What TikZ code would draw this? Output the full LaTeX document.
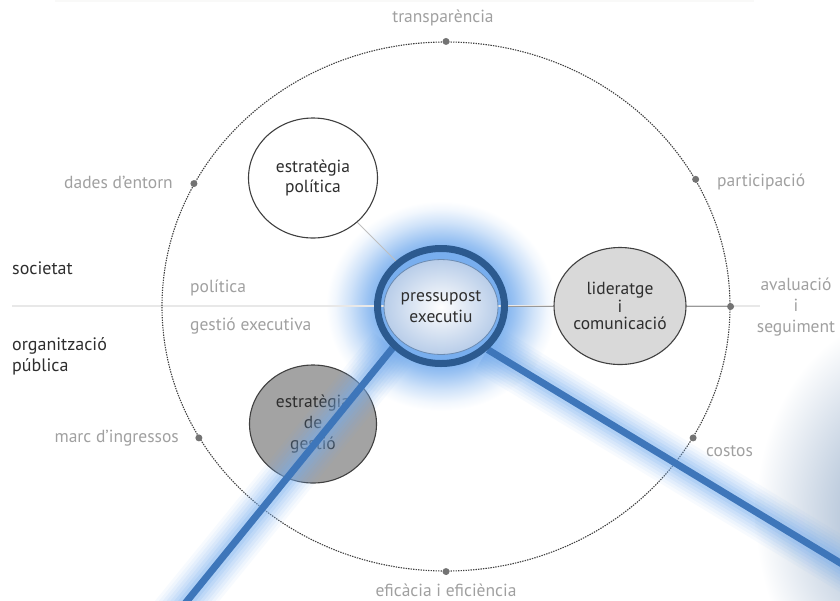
\documentclass[tikz,border=0pt]{standalone}
\usepackage{fontspec}
\setmainfont{PT Sans}
\usetikzlibrary{shapes.geometric}

\definecolor{lblgray}{HTML}{A0A0A0}
\definecolor{txtdark}{HTML}{2E2E2E}
\definecolor{ringblue}{HTML}{2C5A8F}
\definecolor{handblue}{HTML}{3E76BA}
\definecolor{glowblue}{HTML}{78AEEE}
\definecolor{lensmid}{HTML}{E2EAF5}
\definecolor{lensedge}{HTML}{B8CDE9}
\definecolor{blobgray}{HTML}{AEC0D6}

\pgfdeclareradialshading{halo}{\pgfpoint{0bp}{0bp}}{color(0bp)=(glowblue); color(13bp)=(glowblue); color(16bp)=(glowblue!75); color(20bp)=(glowblue!35); color(23bp)=(glowblue!10); color(25bp)=(white); color(50bp)=(white)}
\pgfdeclareradialshading{lens}{\pgfpoint{0bp}{0bp}}{color(0bp)=(white); color(10bp)=(lensmid); color(25bp)=(lensedge); color(50bp)=(lensedge)}
\pgfdeclareradialshading{blob}{\pgfpoint{0bp}{0bp}}{color(0bp)=(blobgray); color(10bp)=(blobgray!85); color(18bp)=(blobgray!40); color(25bp)=(white); color(50bp)=(white)}

\pgfdeclarelayer{back}
\pgfdeclarelayer{front}
\pgfsetlayers{back,main,front}

\begin{document}
\begin{tikzpicture}[
  x=1pt, y=-1pt,
  lbl/.style={font=\fontsize{17.5}{21}\selectfont, text=lblgray, inner sep=0pt},
  side/.style={font=\fontsize{18}{21}\selectfont, text=txtdark, inner sep=0pt, align=left},
  bub/.style={ellipse, draw=black!75, line width=1.1pt, inner sep=0pt, align=center,
    font=\fontsize{17.5}{20}\selectfont, text=txtdark},
  dot/.style={circle, fill=black!55, inner sep=0pt, minimum size=7pt},
  lnk/.style={line width=1pt, draw=black!40},
  handle/.style={line width=7pt, draw=handblue}
]
\useasboundingbox (0,0) rectangle (840,600);
\clip (0,0) rectangle (840,600);

% lens
\begin{pgfonlayer}{front}
\node[ellipse, draw=ringblue, line width=7pt, minimum width=127pt, minimum height=115pt, inner sep=0pt] (pres) at (441,306) {};
\node[bub, draw=ringblue!70, line width=0.8pt, shade, shading=lens, minimum width=102pt, minimum height=95pt,
  font=\fontsize{17.5}{21}\selectfont] (core) at (441,307) {pressupost\\executiu};
\end{pgfonlayer}

\begin{pgfonlayer}{back}
\draw[line width=2pt, draw=yellow!10!black!3] (55,1) -- (754,1);
\shade[shading=blob] (905,515) ellipse (150 and 200);
\shade[shading=halo] (pres.center) ellipse (115 and 105);
\draw[line width=1.5pt, draw=black!9] (12,306) -- (760,306);

\node[ellipse, draw=black!75, line width=1.1pt, dash pattern=on 1.4pt off 1.1pt,
  minimum width=568pt, minimum height=529pt, inner sep=0pt] (orbit) at (446,306.5) {};
\node[dot] (dtr) at (orbit.90) {};
\node[dot] (dde) at (orbit.154) {};
\node[dot] (dpa) at (orbit.27) {};
\node[dot] (dav) at (orbit.0) {};
\node[dot] (dma) at (orbit.208) {};
\node[dot] (dco) at (orbit.332) {};
\node[dot] (def) at (orbit.270) {};

\node[lbl] (ltr) at (443,18) {transparència};
\node[lbl, anchor=east] (lde) at (173,182) {dades d’entorn};
\node[lbl, anchor=west] (lpa) at (717,182) {participació};
\node[lbl, align=center, font=\fontsize{17.5}{21}\selectfont] (lav) at (796,307) {avaluació\\i\\seguiment};
\node[lbl, anchor=east] (lma) at (179,438) {marc d’ingressos};
\node[lbl, anchor=west] (lco) at (706,451) {costos};
\node[lbl] (lef) at (446,590) {eficàcia i eficiència};
\node[lbl, anchor=west] (lpo) at (190,288) {política};
\node[lbl, anchor=west] (lge) at (190,326) {gestió executiva};

\node[side, anchor=west] (soc) at (12,268) {societat};
\node[side, anchor=west] (org) at (12,356) {organització\\pública};
\end{pgfonlayer}

% bubbles
\node[bub, fill=white, minimum width=129pt, minimum height=120pt] (pol) at (313,178) {estratègia\\política};
\node[bub, fill=black!15, minimum width=126pt, minimum height=117pt,
  font=\fontsize{17.5}{17.5}\selectfont] (lid) at (620,306) {lideratge\\i\\comunicació};
\node[bub, fill=black!36, minimum width=127pt, minimum height=118pt,
  font=\fontsize{17.5}{21}\selectfont] (ges) at (313,424) {estratègia\\de\\gestió};

\begin{pgfonlayer}{back}
\draw[lnk, draw=black!25] (pol) -- (pres);
\draw[lnk] (pres) -- (lid);
\draw[lnk] (lid) -- (dav);
\end{pgfonlayer}

% handles
\coordinate (lfoot) at (170,622);
\coordinate (rfoot) at (880,587);
\foreach \w/\o in {50/0.06, 44/0.07, 38/0.09, 32/0.11, 26/0.13, 20/0.16, 14/0.2} {
  \draw[line width=\w pt, draw=glowblue, opacity=\o] (pres.221) -- (lfoot);
  \draw[line width=\w pt, draw=glowblue, opacity=\o] (pres.317) -- (rfoot);
}
\draw[handle] (pres.221) -- (lfoot);
\draw[handle] (pres.317) -- (rfoot);
\end{tikzpicture}
\end{document}
